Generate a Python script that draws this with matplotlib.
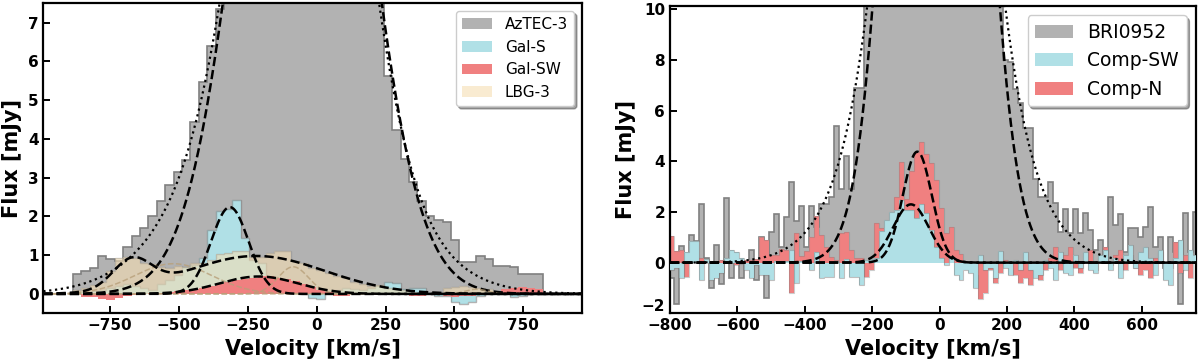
import numpy as np
import matplotlib
matplotlib.use("Agg")
import matplotlib.pyplot as plt
import matplotlib.transforms as mtransforms

# ---------------- left panel: AzTEC-3 field (30.5 km/s channels) ----------------
left_start = -885.0
left_width = 30.5

aztec3 = [0.52, 0.58, 0.67, 0.99, 0.90, 0.85, 1.21, 1.50, 1.70, 2.00,
          2.40, 2.80, 3.15, 3.45, 4.43, 5.47, 6.41, 7.36,
          8.5, 10.5, 12.5, 14.5, 16.2, 17.6, 18.8, 19.7, 20.2, 20.4,
          20.1, 19.4, 18.2, 16.6, 14.8, 12.8, 10.7, 8.8, 7.9,
          5.62, 4.24, 3.48, 2.90, 2.40, 2.00, 1.90, 1.85, 1.40, 0.82,
          0.82, 0.98, 0.90, 0.72, 0.71, 0.69, 0.52, 0.52, 0.52]
gal_s = [0.05, 0.05, 0.08, 0.10, 0.15, 0.20, 0.25, 0.20, 0.15, 0.10,
         0.25, 0.35, 0.50, 0.70, 0.75, 0.92, 1.65, 2.15, 2.20, 2.43,
         1.45, 0.88, 0.80, 0.30, 0.20, 0.10, 0.05, 0.00, -0.10, -0.12,
         0.05, 0.10, 0.15, 0.12, 0.10, 0.15, 0.20, 0.30, 0.28, 0.12,
         0.15, 0.15, 0.02, -0.05, -0.05, -0.20, -0.25, -0.20, -0.05, 0.05,
         0.05, 0.03, -0.08, -0.05, 0.00, 0.02]
gal_sw = [0.00, -0.07, -0.07, -0.12, -0.16, -0.10, -0.05, -0.03, 0.00, 0.02,
          0.03, 0.05, 0.08, 0.10, 0.12, 0.15, 0.20, 0.25, 0.30, 0.35,
          0.38, 0.42, 0.45, 0.45, 0.42, 0.38, 0.33, 0.25, 0.18, 0.10,
          0.05, -0.05, -0.06, 0.00, 0.02, 0.00, 0.02, 0.00, -0.02, -0.03,
          -0.05, -0.06, -0.02, 0.00, -0.05, -0.08, -0.06, -0.05, 0.00, -0.02,
          0.05, 0.12, 0.15, 0.18, 0.15, 0.12]
lbg3 = [0.10, 0.15, 0.22, 0.30, 0.60, 0.92, 0.95, 0.93, 0.80, 0.78,
        0.70, 0.68, 0.72, 0.70, 0.80, 0.80, 0.88, 1.02, 1.05, 1.10,
        1.10, 0.95, 0.95, 1.05, 1.12, 1.10, 0.85, 0.80, 0.68, 0.62,
        0.55, 0.45, 0.40, 0.30, 0.25, 0.20, 0.22, 0.15, 0.12, 0.10,
        0.05, 0.02, 0.00, 0.02, 0.15, 0.18, 0.20, 0.18, 0.15, 0.12,
        0.08, 0.06, 0.04, 0.02, 0.02, 0.00]

# gaussian fits (amplitude, centre, sigma)
aztec3_fit = [(20.4, -52.0, 204.0)]
aztec3_total = [(14.0, -50.0, 180.0), (5.8, -100.0, 300.0)]
gal_s_fit = [(2.24, -315.0, 68.0)]
gal_sw_fit = [(0.45, -210.0, 142.0)]
lbg3_fit = [(0.75, -670.0, 70.0), (0.98, -220.0, 250.0)]
lbg3_parts = [(0.78, -520.0, 140.0), (0.70, -85.0, 55.0), (0.12, 580.0, 40.0)]

# ---------------- right panel: BRI0952 field (14.8 km/s channels) ----------------
right_start = -802.2
right_width = 14.8

bri0952 = [-0.6, -1.65, 0.65, 0.3, 1.1, 0.85, 2.3, 0.2, -1.0, 0.7,
           -0.85, 2.55, -0.6, 0.1, -0.6, 0.05, 0.5, -0.7, 1.0, -1.4,
           1.2, 1.9, 0.6, 1.8, 3.2, 1.65, 2.25, 0.6, 2.25, 1.4,
           2.3, 2.3, 2.6, 5.4, 2.9, 4.2, 2.9, 6.9, 6.9,
           11.5, 14, 17, 20.5, 24, 28, 32, 36, 40, 43.5, 46.5, 49, 51, 52,
           52.5, 52, 51, 49, 46.5, 43.5, 40, 36, 32, 28, 24, 20, 16, 12.5,
           8.0, 7.9, 6.85, 6.3, 5.3, 5.3, 3.3, 2.6, 2.6, 3.2,
           2.35, 1.2, 2.1, 1.15, 2.1, 1.15, 1.95, 1.3, 0.5, 0.9,
           0.0, 2.6, 1.5, 1.9, 0.4, 1.35, 1.35, 1.0, 1.4, 2.2,
           0.6, 1.0, -0.2, 1.0, 0.4, -1.65, 1.95, 0.4, 2.0]
comp_sw = [-0.3, -0.2, -0.6, 0.4, 0.85, 0.85, -0.7, 0.15, -0.7, -0.6,
           -0.4, 0.2, 0.5, 0.4, 0.2, -0.3, -0.6, -0.1, -0.5, -0.5,
           -0.7, 0.05, 0.05, 0.05, 0.5, -0.8, 0.05, 0.1, -0.3, 0.43,
           -0.6, -0.55, -0.55, 0.05, -0.6, 0.16, -0.55, -0.55, -0.88, 0.1,
           0.15, 0.2, 1.25, 1.7, 2.0, 2.06, 2.48, 2.06, 2.08, 1.75,
           2.32, 1.95, 1.29, 0.63, 0.2, -0.1, 0.22, -0.5, -0.7, -0.3,
           -0.4, -1.0, 0.3, -0.3, -0.2, -0.6, 0.45, -0.2, -0.5, 0.1,
           -0.3, 0.4, -0.3, -0.6, -0.5, 0.1, -0.2, -0.7, 0.4, -0.4,
           -0.5, 0.3, -0.2, 0.4, -0.3, -0.4, 0.3, 0.5, -0.3, 0.2,
           -0.6, 0.3, 0.7, -0.2, 0.4, 0.6, 0.2, -0.5, 0.5, -0.7,
           -0.9, 0.2, 0.9, -0.3, 0.5, 0.3]
comp_n = [1.05, 0.45, 0.5, -0.55, 0.8, 0.2, 0.2, 0.1, -0.3, -0.5,
          0.1, 0.15, 0.2, -0.1, -0.05, 0.1, 0.1, 0.15, 1.0, 0.9,
          0.3, 0.3, 0.55, 0.5, -1.2, 1.15, 0.25, 0.45, 1.03, 1.84,
          1.1, 0.63, 0.24, 0.1, 1.16, 1.22, 0.5, 0.2, 0.2, -0.55,
          -0.3, 1.55, 1.36, 1.3, 1.7, 2.6, 3.96, 2.5, 3.6, 4.35,
          4.75, 4.3, 3.95, 3.25, 2.15, 1.15, 1.4, 0.5, 0.35, -0.2,
          -0.3, -0.5, -1.45, -1.2, -0.3, -0.8, -0.4, 0.1, -0.3, -0.5,
          -0.8, -0.6, -0.9, -0.4, -0.7, -0.3, 0.2, 0.6, -0.3, 0.3,
          0.6, -0.2, -0.4, 0.1, 0.5, -0.3, 0.2, 0.6, -0.1, 0.3,
          0.5, -0.3, 0.3, -0.2, -0.5, -0.3, -0.6, 0.2, 0.4, -0.3,
          -0.2, 0.8, -0.4, 0.3, -0.6, 0.2]

bri0952_fit = [(52.0, -10.0, 104.5)]
bri0952_total = [(22.0, -10.0, 110.0), (11.9, -10.0, 180.0)]
comp_sw_fit = [(2.3, -85.0, 53.0)]
comp_n_fit = [(4.38, -66.0, 43.0)]


def gauss(v, comps):
    out = np.zeros_like(v)
    for a, c, s in comps:
        out += a * np.exp(-(v - c) ** 2 / (2 * s ** 2))
    return out


def style(ax):
    for sp in ax.spines.values():
        sp.set_linewidth(1.6)
    ax.tick_params(direction='in', length=5, width=1.4, labelsize=11,
                   top=False, right=False)
    for lbl in ax.get_xticklabels() + ax.get_yticklabels():
        lbl.set_fontweight('bold')
    ax.set_xlabel('Velocity [km/s]', fontsize=15, fontweight='bold')
    ax.set_ylabel('Flux [mJy]', fontsize=15, fontweight='bold')


fig = plt.figure(figsize=(12, 3.6), dpi=100)
ax1 = fig.add_axes([43.3 / 1200, 1 - 313.3 / 360, 538.4 / 1200, 310.0 / 360])
ax2 = fig.add_axes([670 / 1200, 1 - 313.3 / 360, 526 / 1200, 307.3 / 360])

# left panel
edges_l = left_start + left_width * np.arange(len(aztec3) + 1)
h1 = ax1.stairs(aztec3, edges_l, fill=True, color='gray', alpha=0.6, lw=0,
                label='AzTEC-3', zorder=1)
ax1.stairs(aztec3, edges_l, color='gray', lw=1.2, zorder=1)
h2 = ax1.stairs(gal_s, edges_l, fill=True, color='powderblue', lw=0,
                label='Gal-S', zorder=2)
ax1.stairs(gal_s, edges_l, color='gray', lw=1.0, alpha=0.6, zorder=2)
h4 = ax1.stairs(lbg3, edges_l, fill=True, color='wheat', alpha=0.6, lw=0,
                label='LBG-3', zorder=3)
ax1.stairs(lbg3, edges_l, color='gray', lw=1.0, alpha=0.35, zorder=3)
h3 = ax1.stairs(gal_sw, edges_l, fill=True, color='lightcoral', lw=0,
                label='Gal-SW', zorder=4)

v1 = np.linspace(-992, 962, 1200)
ax1.plot(v1, gauss(v1, aztec3_total), 'k:', lw=1.6, zorder=5)
ax1.plot(v1, gauss(v1, aztec3_fit), 'k--', lw=1.8, zorder=5)
for comps in lbg3_parts:
    ax1.plot(v1, gauss(v1, [comps]), ls='--', color='#b8a07a', lw=1.1,
             alpha=0.8, zorder=5)
ax1.plot(v1, gauss(v1, lbg3_fit), 'k--', lw=1.8, zorder=6)
ax1.plot(v1, gauss(v1, gal_sw_fit), 'k--', lw=1.8, zorder=6)
ax1.plot(v1, gauss(v1, gal_s_fit), 'k--', lw=1.8, zorder=6)

ax1.set_xlim(-992, 962)
ax1.set_ylim(-0.5, 7.5)
ax1.set_xticks([-750, -500, -250, 0, 250, 500, 750])
ax1.set_yticks(range(0, 8))
style(ax1)
ax1.legend(handles=[h1, h2, h3, h4], loc='upper right', fontsize=11,
           shadow=True, framealpha=1)

# right panel
edges_r = right_start + right_width * np.arange(len(bri0952) + 1)
g1 = ax2.stairs(bri0952, edges_r, fill=True, color='gray', alpha=0.6, lw=0,
                label='BRI0952', zorder=1)
ax2.stairs(bri0952, edges_r, color='gray', lw=1.2, zorder=1)
g3 = ax2.stairs(comp_n, edges_r, fill=True, color='lightcoral', lw=0,
                label='Comp-N', zorder=2)
ax2.stairs(comp_n, edges_r, color='gray', lw=0.8, alpha=0.4, zorder=2)
g2 = ax2.stairs(comp_sw, edges_r, fill=True, color='powderblue', lw=0,
                label='Comp-SW', zorder=3)
ax2.stairs(comp_sw, edges_r, color='gray', lw=0.8, alpha=0.5, zorder=3)

v2 = np.linspace(-800, 761, 1200)
ax2.plot(v2, gauss(v2, bri0952_total), 'k:', lw=1.6, zorder=5)
ax2.plot(v2, gauss(v2, bri0952_fit), 'k--', lw=1.8, zorder=5)
ax2.plot(v2, gauss(v2, comp_n_fit), 'k--', lw=1.8, zorder=6)
ax2.plot(v2, gauss(v2, comp_sw_fit), 'k--', lw=1.8, zorder=6)

ax2.set_xlim(-800, 761)
ax2.set_ylim(-2, 10.13)
ax2.set_xticks([-800, -600, -400, -200, 0, 200, 400, 600])
ax2.set_yticks([-2, 0, 2, 4, 6, 8, 10])
style(ax2)
# lift the bottom y label a little so it clears the first x label
lift = mtransforms.ScaledTranslation(0, 6 / 72, fig.dpi_scale_trans)
ylab = ax2.get_yticklabels()[0]
ylab.set_transform(ylab.get_transform() + lift)
ax2.legend(handles=[g1, g2, g3], loc='upper right', fontsize=13.5,
           shadow=True, framealpha=1)

fig.savefig('out.png', dpi=100)
